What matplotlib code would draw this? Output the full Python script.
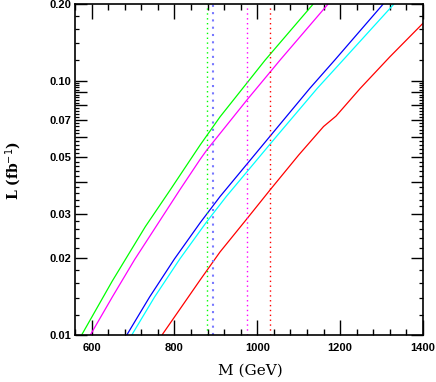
import matplotlib
matplotlib.use("Agg")
import matplotlib.pyplot as plt
from matplotlib.ticker import FixedLocator, NullFormatter

# ---- data ----
green_M = [576, 650, 730, 789, 862, 910, 1019, 1135]
green_L = [0.01, 0.0163, 0.0267, 0.0370, 0.0558, 0.0720, 0.1204, 0.2]

magenta_M = [597, 650, 704, 813, 862, 878, 976, 1055, 1171]
magenta_L = [0.01, 0.0141, 0.0198, 0.0372, 0.049, 0.0533, 0.0843, 0.1204, 0.2]

blue_M = [685, 740, 800, 862, 910, 1031, 1127, 1187, 1304]
blue_L = [0.01, 0.0141, 0.0199, 0.0276, 0.0350, 0.0605, 0.0933, 0.1204, 0.2]

cyan_M = [697, 752, 813, 876, 925, 1047, 1145, 1207, 1330]
cyan_L = [0.01, 0.0141, 0.0199, 0.0276, 0.0350, 0.0605, 0.0933, 0.1204, 0.2]

red_M = [770, 862, 910, 974, 1031, 1100, 1160, 1190, 1248, 1320, 1400]
red_L = [0.01, 0.01645, 0.0212, 0.0285, 0.0372, 0.051, 0.066, 0.0725, 0.093, 0.124, 0.168]

limit_M = [879, 892, 976, 1031]          # vertical dotted lines
limit_colors = ['#00ff00', '#7878ff', '#ff00ff', '#ff0000']

x_major = [600, 800, 1000, 1200, 1400]
y_labeled = [0.01, 0.02, 0.03, 0.05, 0.07, 0.10, 0.20]
y_labels = ['0.01', '0.02', '0.03', '0.05', '0.07', '0.10', '0.20']

fig = plt.figure(figsize=(4.36, 3.82), dpi=100)
ax = fig.add_axes([75/436, 47/382, 348/436, 331/382])

curves = [(green_M, green_L, '#00ff00'), (magenta_M, magenta_L, '#ff00ff'),
          (blue_M, blue_L, '#0000ff'), (cyan_M, cyan_L, '#00ffff'),
          (red_M, red_L, '#ff0000')]
for M, L, c in curves:
    ax.plot(M, L, color=c, lw=0.9, solid_capstyle='butt', solid_joinstyle='round')

for m, c in zip(limit_M, limit_colors):
    lw = 1.5 if c == '#7878ff' else 1.0
    ax.axvline(m, color=c, lw=lw, linestyle=(0, (1, 2.5)))

ax.set_yscale('log')
ax.set_xlim(560, 1400)
ax.set_ylim(0.01, 0.2)

# x ticks
ax.xaxis.set_major_locator(FixedLocator(x_major))
ax.xaxis.set_minor_locator(FixedLocator([m for m in range(560, 1401, 40) if m not in x_major]))
ax.set_xticklabels([str(v) for v in x_major])
ax.tick_params(axis='x', which='major', direction='in', length=11, width=1.0,
               top=True, bottom=True, pad=6, labelsize=8)
ax.tick_params(axis='x', which='minor', direction='in', length=4.2, width=1.0,
               top=True, bottom=True)

# y ticks
y_major = [round(0.01 * k, 3) for k in range(1, 11)] + [0.2]
y_minor = [round(0.002 * k, 3) for k in range(5, 51) if k % 5 != 0] + [0.12, 0.14, 0.16, 0.18]
ax.yaxis.set_major_locator(FixedLocator(y_major))
ax.yaxis.set_minor_locator(FixedLocator(y_minor))
ax.yaxis.set_minor_formatter(NullFormatter())
ax.set_yticklabels([y_labels[y_labeled.index(v)] if v in y_labeled else '' for v in y_major])
ax.tick_params(axis='y', which='major', direction='in', length=8.5, width=1.0,
               left=True, right=True, pad=2.5, labelsize=8)
ax.tick_params(axis='y', which='minor', direction='in', length=3.2, width=0.9,
               left=True, right=True)

for lab in ax.get_xticklabels() + ax.get_yticklabels():
    lab.set_fontfamily('Liberation Sans')
    lab.set_fontweight('bold')

for s in ax.spines.values():
    s.set_linewidth(1.2)

fig.text(250/436, 1 - 371/382, 'M (GeV)', ha='center', va='center',
         fontsize=11, family='DejaVu Serif')
fig.text(14/436, 1 - 171/382, 'L (fb$^{-1}$)', ha='center', va='center',
         rotation=90, fontsize=10, family='DejaVu Serif', fontweight='bold')

fig.savefig('out.png', dpi=100)
